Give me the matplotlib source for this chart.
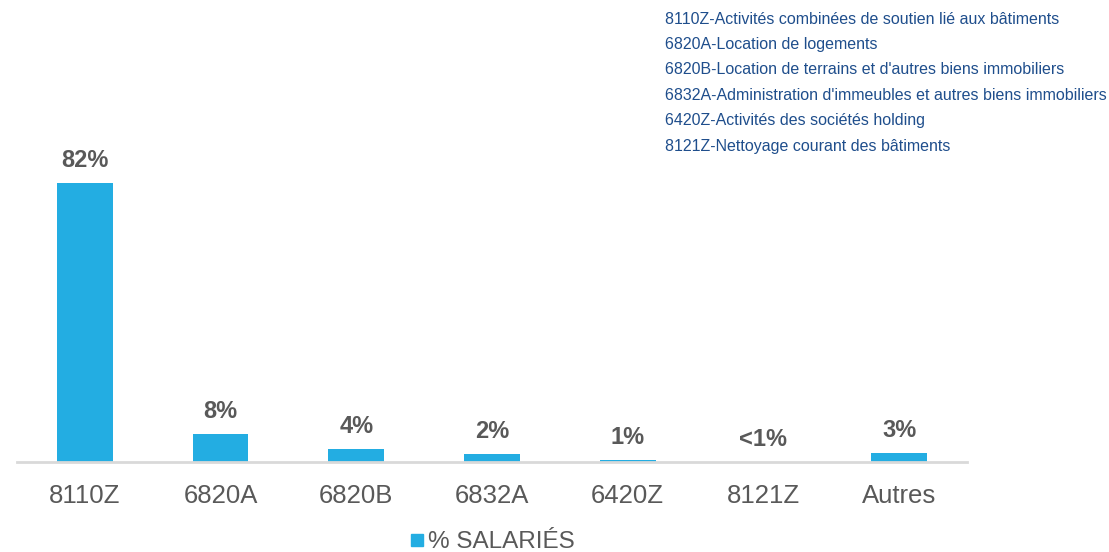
import matplotlib
matplotlib.use("Agg")
import matplotlib.pyplot as plt
from matplotlib.lines import Line2D

plt.rcParams['font.family'] = ['Liberation Sans', 'DejaVu Sans']

categories = ["8110Z", "6820A", "6820B", "6832A", "6420Z", "8121Z", "Autres"]
values = [82, 8.2, 3.8, 2.3, 0.5, 0.1, 2.7]
value_labels = ["82%", "8%", "4%", "2%", "1%", "<1%", "3%"]
descriptions = [
    "8110Z-Activités combinées de soutien lié aux bâtiments",
    "6820A-Location de logements",
    "6820B-Location de terrains et d'autres biens immobiliers",
    "6832A-Administration d'immeubles et autres biens immobiliers",
    "6420Z-Activités des sociétés holding",
    "8121Z-Nettoyage courant des bâtiments",
]
series_name = "% SALARIÉS"

W, H = 1109, 552
fig = plt.figure(figsize=(W / 100, H / 100), dpi=100)
ax_left, ax_right = 17, 967
ax_bottom, ax_top = 462, 100
ax = fig.add_axes([ax_left / W, (H - ax_bottom) / H, (ax_right - ax_left) / W, (ax_bottom - ax_top) / H])

bar_color = "#23ADE2"
x = list(range(len(categories)))
ax.bar(x, values, width=0.41, color=bar_color)
ppu = 279 / 82
ax.set_ylim(0, (ax_bottom - ax_top) / ppu)
ax.set_xlim(-0.5, len(categories) - 0.5)

for xi, v, lab in zip(x, values, value_labels):
    ax.annotate(lab, (xi, v), xytext=(0, 8), textcoords="offset points",
                ha="center", va="bottom", fontsize=17, fontweight="bold", color="#595959")

for s in ["top", "right", "left"]:
    ax.spines[s].set_visible(False)
ax.spines["bottom"].set_color("#D9D9D9")
ax.spines["bottom"].set_linewidth(2)
ax.set_yticks([])
ax.set_xticks(x)
ax.set_xticklabels(categories, fontsize=18.5, color="#595959")
ax.tick_params(axis="x", length=0, pad=16)

for i, d in enumerate(descriptions):
    fig.text(665 / W, 1 - (19 + i * 25.5) / H, d, fontsize=11.5, color="#1F4E8C",
             ha="left", va="center")

handle = Line2D([], [], marker="s", linestyle="none", markersize=9,
                markerfacecolor=bar_color, markeredgecolor=bar_color)
fig.legend(handles=[handle], labels=[series_name],
           loc="center", bbox_to_anchor=(492 / W, 1 - 542 / H), frameon=False,
           fontsize=17.5, handlelength=0.6, handletextpad=0.15,
           labelcolor="#595959")

fig.savefig("out.png", dpi=100)
